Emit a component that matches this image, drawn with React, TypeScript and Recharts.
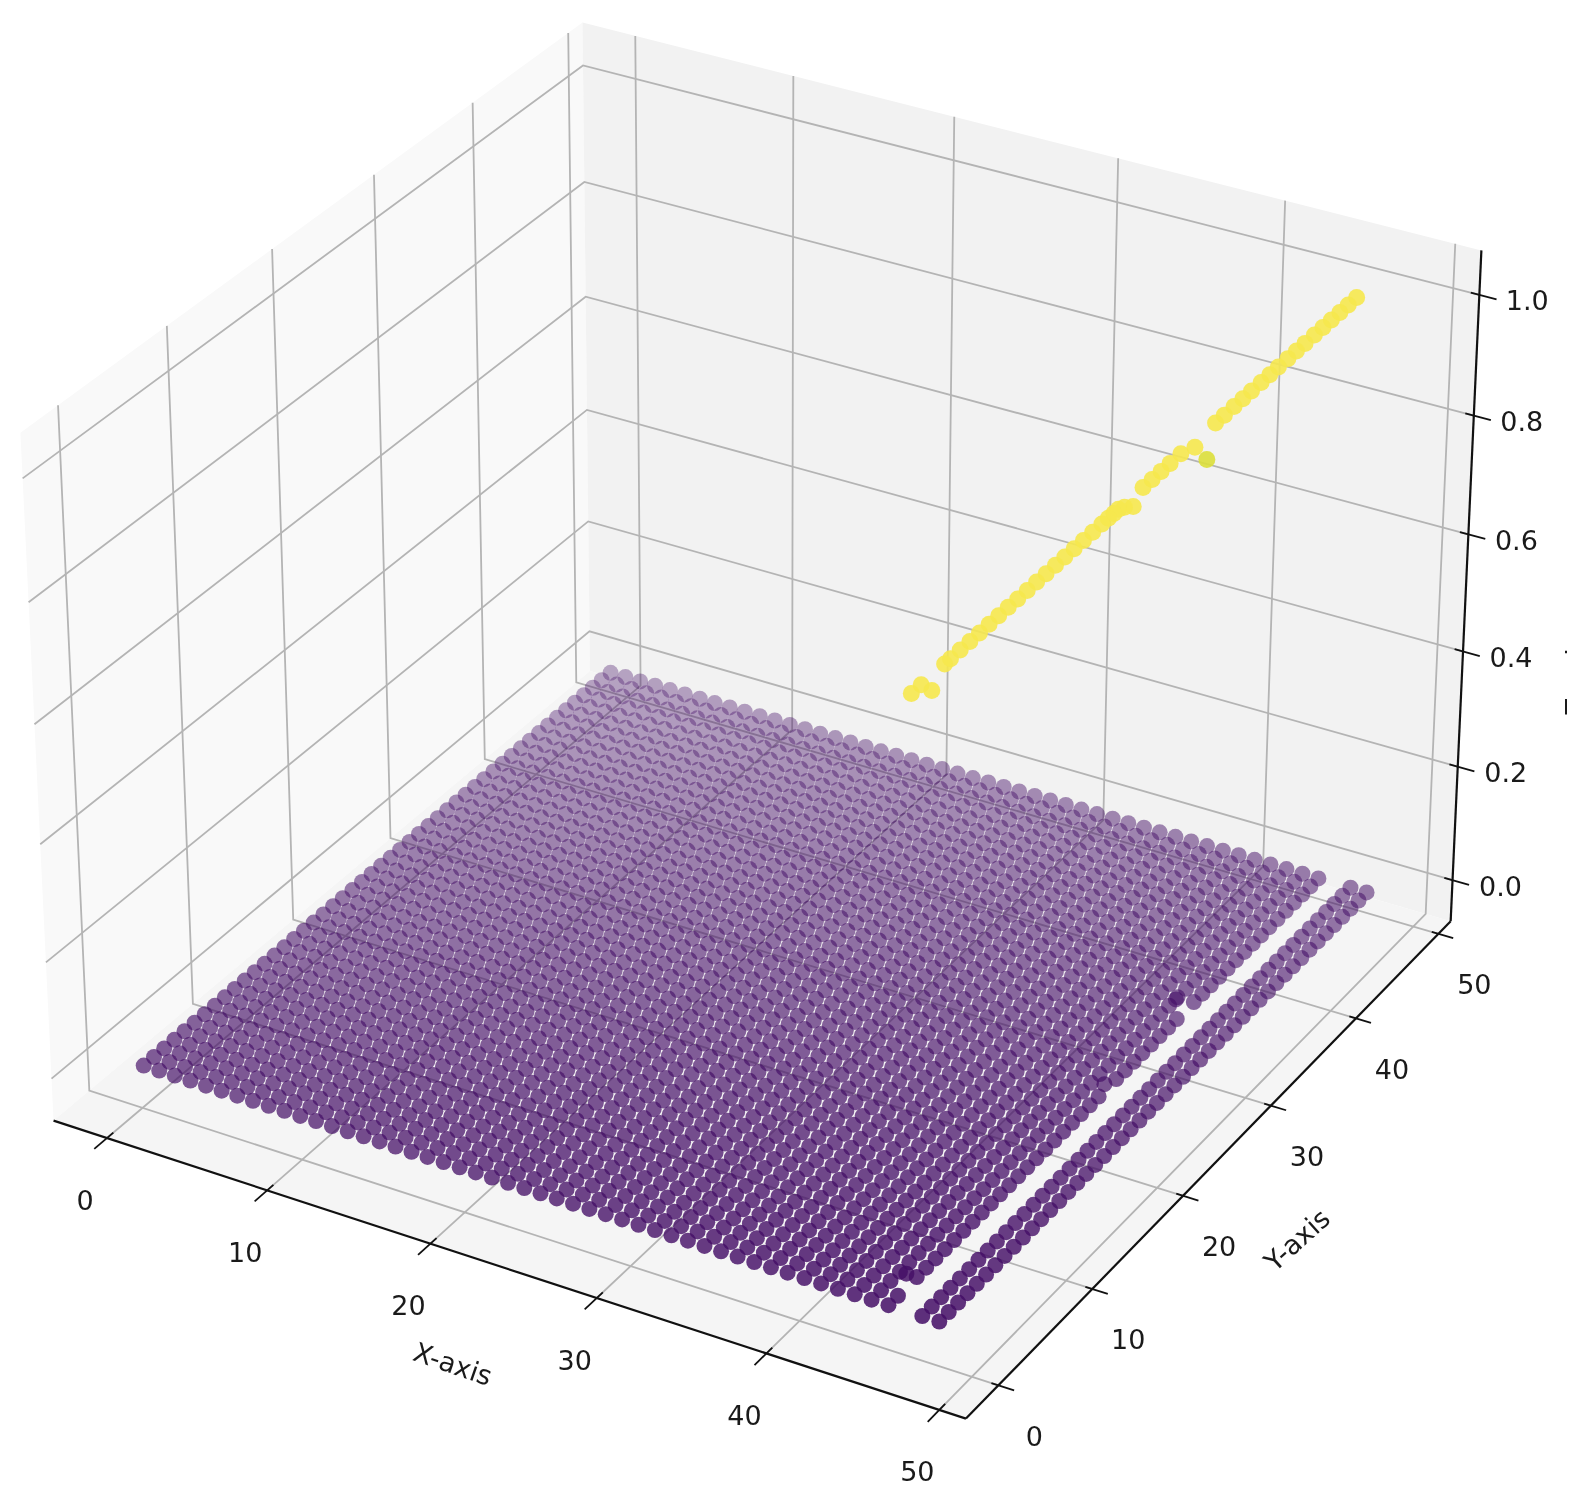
import { Scatter, ScatterChart, XAxis, YAxis } from "recharts";

const WIDTH = 1579;
const HEIGHT = 1508;

// data: dots are read as column / row numbers on the floor
const gridX = [
  0, 1, 2, 3, 4, 5, 6, 7, 8, 9, 10, 11, 12, 13, 14, 15, 16, 17, 18, 19, 20, 21, 22, 23, 24, 25, 26,
  27, 28, 29, 30, 31, 32, 33, 34, 35, 36, 37, 38, 39, 40, 41, 42, 43, 44, 45, 46, 48, 49,
];
const gridY = [
  0, 1, 2, 3, 4, 5, 6, 7, 8, 9, 10, 11, 12, 13, 14, 15, 16, 17, 18, 19, 20, 21, 22, 23, 24, 25, 26,
  27, 28, 29, 30, 31, 32, 33, 34, 35, 36, 37, 38, 39, 40, 41, 42, 43, 44, 45, 46, 47, 48, 49,
];
// spots on the floor where a dot is missing, and the darker doubled dots next to them
const floorMissing = [[46, 2], [46, 24], [46, 33]];
const floorExtraX = [45.38, 45.69, 45.03];
const floorExtraY = [3.0, 24.24, 33.75];

const yellowX = [
  47, 47, 47.73, 47, 47, 47, 47, 47, 47, 47, 47, 47, 47, 47, 47, 47, 47, 47, 47, 47, 47, 47, 47, 47,
  47.16, 47.52, 47, 47, 47, 47, 47, 47.3, 47.54, 47, 47, 47, 47, 47, 47, 47, 47, 47, 47, 47, 47, 47,
  47, 47, 47, 47,
];
const yellowY = [
  0, 1, 0.77, 3.4, 4, 5, 6, 7, 8, 9, 10, 11, 12, 13, 14, 15, 16, 17, 18, 19, 20, 20.7, 21.3, 21.8,
  22.16, 22.44, 24.5, 25.5, 26.5, 27.5, 28.7, 29.7, 30.64, 32.6, 33.6, 34.7, 35.7, 36.7, 37.8, 38.8,
  39.8, 40.9, 41.9, 42.9, 44, 45, 46, 47, 48, 49,
];
const yellowZ = [
  1, 1, 1, 1, 1, 1, 1, 1, 1, 1, 1, 1, 1, 1, 1, 1, 1, 1, 1, 1, 1, 1, 1, 1, 1, 1, 1, 1, 1, 1, 1, 1,
  0.97, 1, 1, 1, 1, 1, 1, 1, 1, 1, 1, 1, 1, 1, 1, 1, 1, 1,
];

const xTicks = [0, 10, 20, 30, 40, 50];
const yTicks = [0, 10, 20, 30, 40, 50];
const zTicks = [0, 0.2, 0.4, 0.6, 0.8, 1];
const zTickLabels = ["0.0", "0.2", "0.4", "0.6", "0.8", "1.0"];

const X_LIM: [number, number] = [-3.38, 51.52];
const Y_LIM: [number, number] = [-3.38, 51.52];
const Z_LIM: [number, number] = [-0.0729, 1.0729];

// column / row number -> axis units
const DOT_OFFSET = 0.11;
const DOT_STEP = 0.978;
const toAxis = (i: number) => DOT_OFFSET + DOT_STEP * i;

// same camera as a default matplotlib 3d axes (elev 30, azim -60)
const BOX = [1.1905, 1.1905, 0.8929];
const U = [0.866, 0.5, 0];
const V = [-0.25, 0.433, 0.866];
const W = [0.433, -0.75, 0.5];
const SCALE = 8780;
const CENTER_X = 765;
const CENTER_Y = 687;

function project(x: number, y: number, z: number) {
  const q = [
    ((x - X_LIM[0]) / (X_LIM[1] - X_LIM[0]) - 0.5) * BOX[0],
    ((y - Y_LIM[0]) / (Y_LIM[1] - Y_LIM[0]) - 0.5) * BOX[1],
    ((z - Z_LIM[0]) / (Z_LIM[1] - Z_LIM[0]) - 0.5) * BOX[2],
  ];
  const dot = (a: number[]) => a[0] * q[0] + a[1] * q[1] + a[2] * q[2];
  const depth = dot(W) - 10;
  return {
    px: CENTER_X + (SCALE * dot(U)) / -depth,
    py: CENTER_Y - (SCALE * dot(V)) / -depth,
    depth,
  };
}

const depthAlpha = (depth: number) => Math.min(0.94, Math.max(0.33, 0.33 + 0.42 * (depth + 10.85)));

const [x0, x1] = X_LIM;
const [y0, y1] = Y_LIM;
const [z0, z1] = Z_LIM;

const floorDots = [
  ...gridX.flatMap((x) =>
    gridY
      .filter((y) => !floorMissing.some((m) => m[0] === x && m[1] === y))
      .map((y) => project(toAxis(x), toAxis(y), 0)),
  ),
  ...floorExtraX.map((x, i) => project(toAxis(x), toAxis(floorExtraY[i]), 0)),
].sort((a, b) => a.depth - b.depth);

const yellowDots = yellowX
  .map((x, i) => ({ ...project(toAxis(x), toAxis(yellowY[i]), yellowZ[i]), z: yellowZ[i] }))
  .sort((a, b) => a.depth - b.depth);

const panes = [
  { fill: "#f9f9f9", pts: [[x0, y0, z0], [x0, y1, z0], [x0, y1, z1], [x0, y0, z1]] },
  { fill: "#f2f2f2", pts: [[x0, y1, z0], [x1, y1, z0], [x1, y1, z1], [x0, y1, z1]] },
  { fill: "#f5f5f5", pts: [[x0, y0, z0], [x1, y0, z0], [x1, y1, z0], [x0, y1, z0]] },
];

const gridLines = [
  ...xTicks.map((t) => [[t, y0, z0], [t, y1, z0], [t, y1, z1]]),
  ...yTicks.map((t) => [[x1, t, z0], [x0, t, z0], [x0, t, z1]]),
  ...zTicks.map((t) => [[x0, y0, t], [x0, y1, t], [x1, y1, t]]),
];

const axisLines = [
  [[x0, y0, z0], [x1, y0, z0]],
  [[x1, y0, z0], [x1, y1, z0]],
  [[x1, y1, z0], [x1, y1, z1]],
];

const tickMarks = [
  ...xTicks.map((t) => [[t, y0 - 1.2, z0], [t, y0 + 0.6, z0]]),
  ...yTicks.map((t) => [[x1 - 0.4, t, z0], [x1 + 0.9, t, z0]]),
  ...zTicks.map((t) => [[x1 - 0.5, y1, t], [x1 + 1, y1, t]]),
];

const toSeries = (pts: number[][]) => pts.map((p) => project(p[0], p[1], p[2]));

const labelDots = [
  ...xTicks.map((t) => {
    const p = project(t, y0, z0);
    return { px: p.px - 22, py: p.py + 62, text: String(t), angle: 0 };
  }),
  ...yTicks.map((t) => {
    const p = project(x1, t, z0);
    return { px: p.px + 36, py: p.py + 51, text: String(t), angle: 0 };
  }),
  ...zTicks.map((t, i) => {
    const p = project(x1, y1, t);
    return { px: p.px + 48, py: p.py + 6, text: zTickLabels[i], angle: 0 };
  }),
];

const xTitle = project(24.5, y0, z0);
const yTitle = project(x1, 24.5, z0);
const zTitle = project(x1, y1, 0.5);
const titleDots = [
  { px: xTitle.px - 52, py: xTitle.py + 96, text: "X-axis", angle: 19 },
  { px: yTitle.px + 74, py: yTitle.py + 85, text: "Y-axis", angle: -42 },
];
const zTitleDots = [{ px: zTitle.px + 110, py: zTitle.py + 82, text: "Z-axis", angle: -90 }];

const noDot = () => <g />;

const polygon = (fill: string) => (props: any) => (
  <polygon
    points={props.points.map((p: any) => `${p.x},${p.y}`).join(" ")}
    fill={fill}
    stroke="none"
  />
);

const renderDot = (fill: string, r: number) => (props: any) => (
  <circle
    cx={props.cx}
    cy={props.cy}
    r={r}
    fill={fill}
    fillOpacity={depthAlpha(props.payload.depth)}
  />
);

const renderYellow = (props: any) => (
  <circle
    cx={props.cx}
    cy={props.cy}
    r={8.5}
    fill={props.payload.z < 1 ? "#dcdf3a" : "#f6e84e"}
    fillOpacity={0.9}
  />
);

const renderText = (props: any) => {
  const { text, angle } = props.payload;
  return (
    <text
      x={props.cx}
      y={props.cy}
      textAnchor="middle"
      dominantBaseline="central"
      fontSize={27}
      fill="#1a1a1a"
      transform={angle ? `rotate(${angle} ${props.cx} ${props.cy})` : undefined}
    >
      {text}
    </text>
  );
};

// the z title runs off the right edge of the picture, only its tips show
const renderClippedText = (props: any) => (
  <g clipPath="url(#z-title-clip)">{renderText(props)}</g>
);

export default function App() {
  return (
    <div
      style={{
        position: "absolute",
        left: 0,
        top: 0,
        width: WIDTH,
        height: HEIGHT,
        background: "#fff",
        overflow: "hidden",
        fontFamily: '"DejaVu Sans", sans-serif',
        filter: "blur(0.7px)",
      }}
    >
      <ScatterChart width={WIDTH} height={HEIGHT} margin={{ top: 0, right: 0, bottom: 0, left: 0 }}>
        <defs>
          <clipPath id="z-title-clip">
            <rect x={0} y={0} width={1567} height={HEIGHT} />
          </clipPath>
        </defs>
        <XAxis type="number" dataKey="px" domain={[0, WIDTH]} hide />
        <YAxis type="number" dataKey="py" domain={[0, HEIGHT]} reversed hide />

        {panes.map((pane, i) => (
          <Scatter
            key={`pane-${i}`}
            data={toSeries(pane.pts)}
            line={polygon(pane.fill)}
            shape={noDot}
            isAnimationActive={false}
          />
        ))}
        {gridLines.map((pts, i) => (
          <Scatter
            key={`grid-${i}`}
            data={toSeries(pts)}
            line={{ stroke: "#b4b4b4", strokeWidth: 1.8 }}
            shape={noDot}
            isAnimationActive={false}
          />
        ))}
        {axisLines.map((pts, i) => (
          <Scatter
            key={`axis-${i}`}
            data={toSeries(pts)}
            line={{ stroke: "#111", strokeWidth: 2.2 }}
            shape={noDot}
            isAnimationActive={false}
          />
        ))}
        {tickMarks.map((pts, i) => (
          <Scatter
            key={`tick-${i}`}
            data={toSeries(pts)}
            line={{ stroke: "#111", strokeWidth: 1.8 }}
            shape={noDot}
            isAnimationActive={false}
          />
        ))}

        <Scatter data={floorDots} shape={renderDot("#440e66", 8)} isAnimationActive={false} />
        <Scatter data={yellowDots} shape={renderYellow} isAnimationActive={false} />
        <Scatter data={labelDots} shape={renderText} isAnimationActive={false} />
        <Scatter data={titleDots} shape={renderText} isAnimationActive={false} />
        <Scatter data={zTitleDots} shape={renderClippedText} isAnimationActive={false} />
      </ScatterChart>
    </div>
  );
}
